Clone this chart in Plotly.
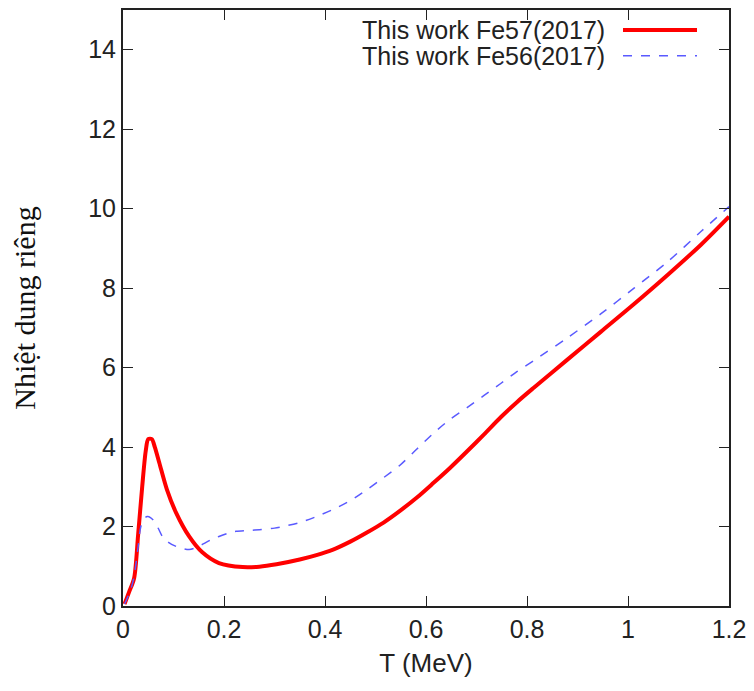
import plotly.graph_objects as go

# Fe57 (2017) specific heat
T_fe57 = [0.003, 0.012, 0.022, 0.03, 0.038, 0.045, 0.05, 0.057, 0.063, 0.072, 0.087,
          0.105, 0.131, 0.157, 0.19, 0.237, 0.27, 0.304, 0.35, 0.383, 0.416, 0.45, 0.483, 0.516, 0.549,
          0.582, 0.615, 0.648, 0.682, 0.715, 0.748, 0.78, 0.814, 0.88, 0.946, 1.012, 1.08, 1.145, 1.2]
C_fe57 = [0.05, 0.35, 0.7, 1.8, 3.0, 3.9, 4.2, 4.2, 4.0, 3.6, 2.93,
          2.35, 1.75, 1.35, 1.08, 0.98, 0.99, 1.05, 1.17, 1.28, 1.42, 1.62, 1.85, 2.1, 2.4,
          2.73, 3.1, 3.48, 3.9, 4.32, 4.75, 5.13, 5.5, 6.2, 6.9, 7.6, 8.35, 9.1, 9.8]

# Fe56 (2017) specific heat
T_fe56 = [0.003, 0.015, 0.022, 0.03, 0.035, 0.042, 0.048, 0.055, 0.062, 0.07, 0.078,
          0.09, 0.105, 0.12, 0.131, 0.145, 0.157, 0.175, 0.19, 0.21, 0.224, 0.25,
          0.27, 0.3, 0.316, 0.35, 0.383, 0.416, 0.45, 0.483, 0.516, 0.549, 0.582,
          0.615, 0.648, 0.682, 0.715, 0.748, 0.78, 0.814, 0.88, 0.946, 1.012,
          1.08, 1.145, 1.2]
C_fe56 = [0.05, 0.4, 0.75, 1.5, 1.98, 2.2, 2.25, 2.22, 2.13, 1.95, 1.75,
          1.6, 1.5, 1.44, 1.42, 1.47, 1.55, 1.67, 1.75, 1.84, 1.88, 1.9,
          1.92, 1.96, 2.0, 2.1, 2.25, 2.43, 2.65, 2.93, 3.23, 3.55, 3.95,
          4.35, 4.7, 5.0, 5.3, 5.6, 5.9, 6.18, 6.75, 7.35, 8.0,
          8.68, 9.43, 10.05]

names = ["This work Fe57(2017)", "This work Fe56(2017)"]
x_ticks = [0, 0.2, 0.4, 0.6, 0.8, 1, 1.2]
x_labels = ["0", "0.2", "0.4", "0.6", "0.8", "1", "1.2"]
y_ticks = [0, 2, 4, 6, 8, 10, 12, 14]

# page body has an 8px margin; figure sized to fit the 754x691 window
OFF = 8
W, H = 754 - OFF, 691 - OFF
L, R, T, B = 115, 25, 0, 85
pw, ph = W - L - R, H - T - B

red_style = dict(color="#ff0000", width=4)
blue_style = dict(color="#5a5aff", width=1.5, dash="9px,9px")

fig = go.Figure()
fig.add_trace(go.Scatter(x=T_fe57, y=C_fe57, mode="lines", name=names[0],
                         line=dict(**red_style, shape="spline", smoothing=0.8),
                         showlegend=False))
fig.add_trace(go.Scatter(x=T_fe56, y=C_fe56, mode="lines", name=names[1],
                         line=dict(**blue_style, shape="spline", smoothing=0.8),
                         showlegend=False))

# helpers: window pixel -> paper coordinate
def px_x(p):
    return (p - OFF - L) / pw

def px_y(p):
    return (H - B - (p - OFF)) / ph

legend_rows = [28, 54]
styles = [red_style, blue_style]
for nm, yy, st in zip(names, legend_rows, styles):
    fig.add_annotation(x=px_x(607), y=px_y(yy), xref="paper", yref="paper",
                       text=nm, showarrow=False, xanchor="right", yanchor="middle",
                       font=dict(family="Liberation Sans, Arial", size=25, color="#222"))
    fig.add_shape(type="line", xref="paper", yref="paper",
                  x0=px_x(623), x1=px_x(697), y0=px_y(yy), y1=px_y(yy),
                  line=st)

axis_common = dict(showline=True, linecolor="#222", linewidth=2, mirror="ticks",
                   ticks="inside", ticklen=10, tickwidth=1, tickcolor="#222",
                   showgrid=False, zeroline=False,
                   tickfont=dict(family="Liberation Sans, Arial", size=25, color="#222"))

fig.update_layout(
    width=W, height=H,
    margin=dict(l=L, r=R, t=T, b=B),
    paper_bgcolor="white", plot_bgcolor="white",
    xaxis=dict(range=[0, 1.2], tickvals=x_ticks, ticktext=x_labels,
               title=dict(text="T (MeV)", standoff=12,
                          font=dict(family="Liberation Sans, Arial", size=26, color="#222")),
               **axis_common),
    yaxis=dict(range=[0, 15], tickvals=y_ticks,
               title=dict(text="Nhiệt dung riêng", standoff=50,
                          font=dict(family="Liberation Serif, Times New Roman", size=30, color="#111")),
               **axis_common),
)

fig.write_html("out.html")
